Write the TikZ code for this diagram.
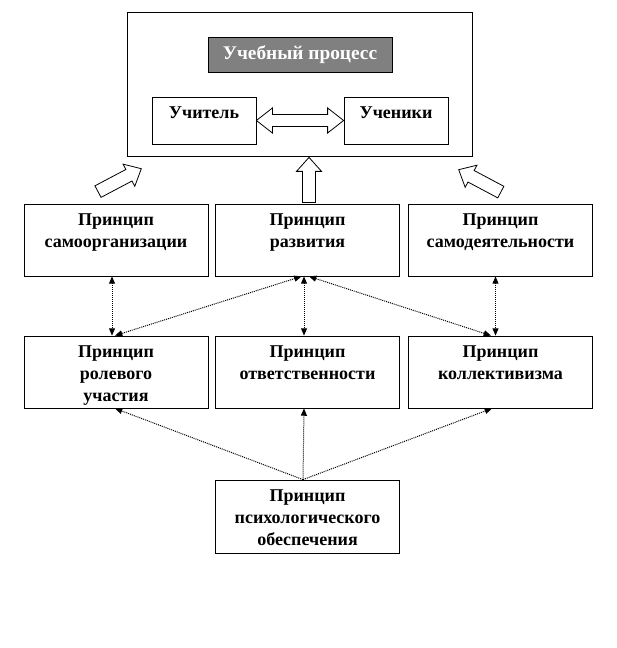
\documentclass[tikz,border=0pt]{standalone}
\usepackage{fontspec}
\setmainfont{Liberation Serif}
\usepackage{tikz}
\usetikzlibrary{calc,positioning,arrows.meta}

\newcommand{\topstrut}{\rule{0pt}{12pt}}
% block arrow from #1 to #2
\newcommand{\blockarrow}[2]{%
  \coordinate (ba-a) at #1; \coordinate (ba-b) at #2;
  \coordinate (ba-h) at ($(ba-b)!10.5pt!(ba-a)$);
  \draw[blockarr] ($(ba-a)!4.9pt!90:(ba-b)$) -- ($(ba-h)!4.9pt!-90:(ba-a)$) -- ($(ba-h)!9.4pt!-90:(ba-a)$)
    -- (ba-b) -- ($(ba-h)!9.4pt!90:(ba-a)$) -- ($(ba-h)!4.9pt!90:(ba-a)$) -- ($(ba-a)!4.9pt!-90:(ba-b)$) -- cycle;}

\tikzset{
  box/.style={draw=black,line width=0.6pt,fill=white,inner sep=0pt},
  prbox/.style={box,minimum width=138pt,minimum height=54pt},
  smallbox/.style={box,minimum width=78pt,minimum height=35.25pt},
  txt/.style={align=center,inner sep=0pt,font=\fontsize{13.5}{16.2}\selectfont\bfseries},
  blockarr/.style={draw=black,line width=0.6pt,fill=white,line join=miter},
  link/.style={dash pattern=on 0.75pt off 0.75pt,line width=0.75pt,{Triangle[length=5.5pt,width=4.5pt]}-{Triangle[length=5.5pt,width=4.5pt]}},
  onelink/.style={dash pattern=on 0.75pt off 0.75pt,line width=0.75pt,-{Triangle[length=5.5pt,width=4.5pt]}}
}

\begin{document}
\begin{tikzpicture}[x=0.75pt,y=-0.75pt]
\useasboundingbox (0,0) rectangle (616,648);
% learning process
\node[box,minimum width=258.75pt,minimum height=108pt] (proc) at (299.5,84) {};
\node[box,fill=black!50,text=white,txt,font=\fontsize{14.5}{17}\selectfont\bfseries,minimum width=138pt,minimum height=26.25pt] (titl) at (300,54.5) {Учебный процесс};
\node[smallbox] (tch) at (204,120.5) {};
\node[txt,below=4.5pt of tch.north] (tch-t) {\topstrut Учитель};
\node[smallbox] (pup) at (396,120.5) {};
\node[txt,below=4.5pt of pup.north] (pup-t) {\topstrut Ученики};
\draw[blockarr] (tch.east) -- ++(16,-12.5) -- ++(0,6.5) -- ($(pup.west)+(-16,-6)$) -- ++(0,-6.5) -- (pup.west)
  -- ++(-16,12.5) -- ++(0,-6.5) -- ($(tch.east)+(16,6)$) -- ++(0,6.5) -- cycle;
% first row
\node[prbox] (so) at (116,240) {};
\node[txt,below=4.5pt of so.north] (so-t) {\topstrut Принцип\\самоорганизации};
\node[prbox] (rz) at (307.5,240) {};
\node[txt,below=4.5pt of rz.north] (rz-t) {\topstrut Принцип\\развития};
\node[prbox] (sd) at (500.5,240) {};
\node[txt,below=4.5pt of sd.north] (sd-t) {\topstrut Принцип\\самодеятельности};
% second row
\node[prbox] (rl) at (116,372) {};
\node[txt,below=4.5pt of rl.north] (rl-t) {\topstrut Принцип\\ролевого\\участия};
\node[prbox] (ot) at (307.5,372) {};
\node[txt,below=4.5pt of ot.north] (ot-t) {\topstrut Принцип\\ответственности};
\node[prbox] (kl) at (500.5,372) {};
\node[txt,below=4.5pt of kl.north] (kl-t) {\topstrut Принцип\\коллективизма};
% psychological support
\node[prbox,minimum height=54.75pt] (ps) at (307.5,516.5) {};
\node[txt,below=4.5pt of ps.north] (ps-t) {\topstrut Принцип\\психологического\\обеспечения};
% block arrows up
\blockarrow{($(so.north)+(-18,-12)$)}{($(proc.south west)+(14.7,12.3)$)}
\blockarrow{($(rz.north)+(1.5,-1)$)}{($(proc.south)+(9.5,1)$)}
\blockarrow{($(sd.north)+(0.3,-11.5)$)}{($(proc.south east)+(-13.7,13.3)$)}
% dotted links
\draw[link] ($(so.south)+(-4,0)$) -- ($(rl.north)+(-4,0)$);
\draw[link] ($(rz.south)+(-3.5,0)$) -- ($(ot.north)+(-3.5,0)$);
\draw[link] ($(sd.south)+(-5,0)$) -- ($(kl.north)+(-5,0)$);
\draw[link] ($(rz.south)+(-6,0)$) -- ($(rl.north)+(-1,0)$);
\draw[link] ($(rz.south)+(1.5,0)$) -- ($(kl.north)+(-9.5,0)$);
\coordinate (ps-top) at ($(ps.north)+(-4.5,0)$);
\draw[onelink] (ps-top) -- ($(rl.south)+(-1,0)$);
\draw[onelink] (ps-top) -- ($(ot.south)+(-3.5,0)$);
\draw[onelink] (ps-top) -- ($(kl.south)+(-8.5,0)$);
\end{tikzpicture}
\end{document}
